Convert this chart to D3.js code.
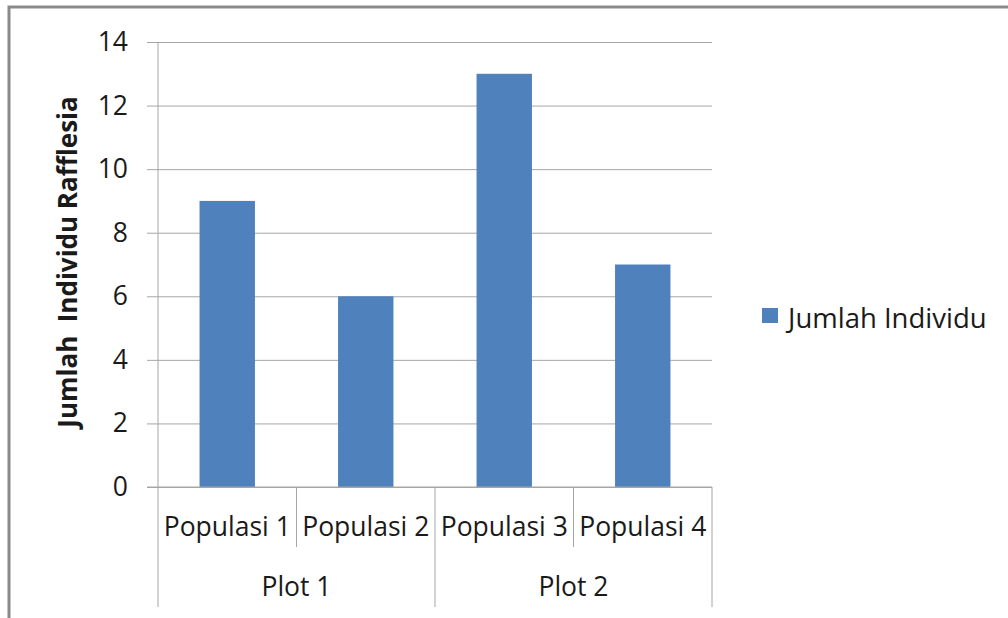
<!DOCTYPE html>
<html>
<head>
<meta charset="utf-8">
<script src="https://cdn.jsdelivr.net/npm/d3@7"></script>
<style>
  html, body { margin: 0; padding: 0; background: #fff; }
  svg { display: block; }
  text { font-family: "Open Sans", sans-serif; fill: #1a1a1a; }
</style>
</head>
<body>
<svg id="chart" width="1008" height="618"></svg>
<script>
// Data
const categories = ["Populasi 1", "Populasi 2", "Populasi 3", "Populasi 4"];
const groups = ["Plot 1", "Plot 2"];
const groupOf = ["Plot 1", "Plot 1", "Plot 2", "Plot 2"];
const values = [9, 6, 13, 7];
const yTicks = [0, 2, 4, 6, 8, 10, 12, 14];
const seriesName = "Jumlah Individu";
const yTitle = "Jumlah  Individu Rafflesia";

const svg = d3.select("#chart");
const W = 1008, H = 618;
const plot = { left: 158, right: 712, top: 42, bottom: 487 };
const barColor = "#4f81bd";
const gridColor = "#a6a6a6";
const fontSize = 26.5;

// Outer frame (top and left edges visible)
svg.append("rect").attr("x", 0).attr("y", 0).attr("width", W).attr("height", H).attr("fill", "#fff");
svg.append("path")
  .attr("d", `M9,${H} V7 H${W}`)
  .attr("fill", "none").attr("stroke", "#8a8a8a").attr("stroke-width", 3);

const x = d3.scaleBand().domain(categories).range([plot.left, plot.right]).paddingInner(0.6).paddingOuter(0.3);
const xOuter = d3.scaleBand().domain(categories).range([plot.left, plot.right]);
const y = d3.scaleLinear().domain([0, 14]).range([plot.bottom, plot.top]);

// Horizontal gridlines with tick marks extending left
const yAxis = d3.axisLeft(y).tickValues(yTicks).tickSize(plot.right - 147).tickPadding(19).tickFormat(d3.format("d"));
const gy = svg.append("g").attr("transform", `translate(${plot.right},0)`).call(yAxis);
gy.select(".domain").remove();
gy.selectAll(".tick line").attr("stroke", gridColor).attr("stroke-width", 1);
gy.selectAll(".tick text").attr("font-size", fontSize).attr("fill", "#1a1a1a")
  .style("font-family", "'Open Sans', sans-serif");

// Vertical value axis line
svg.append("line").attr("x1", plot.left).attr("x2", plot.left)
  .attr("y1", plot.top).attr("y2", plot.bottom).attr("stroke", gridColor);

// Bars
svg.append("g").selectAll("rect").data(values).join("rect")
  .attr("x", (d, i) => x(categories[i]))
  .attr("width", x.bandwidth())
  .attr("y", d => y(d))
  .attr("height", d => y(0) - y(d))
  .attr("fill", barColor);

// Category axis: baseline, separators, two label levels
svg.append("line").attr("x1", 147).attr("x2", plot.right)
  .attr("y1", plot.bottom).attr("y2", plot.bottom).attr("stroke", gridColor);

const boundaries = categories.map(c => xOuter(c)).concat([plot.right]);
svg.append("g").selectAll("line").data(boundaries).join("line")
  .attr("x1", d => d).attr("x2", d => d)
  .attr("y1", plot.bottom)
  .attr("y2", (d, i) => (i % 2 === 0) ? 607 : 547)
  .attr("stroke", gridColor);

svg.append("g").selectAll("text").data(categories).join("text")
  .attr("x", d => xOuter(d) + xOuter.bandwidth() / 2)
  .attr("y", 536)
  .attr("text-anchor", "middle")
  .attr("font-size", fontSize)
  .text(d => d);

svg.append("g").selectAll("text").data(groups).join("text")
  .attr("x", g => {
    const members = categories.filter((c, i) => groupOf[i] === g);
    return (xOuter(members[0]) + xOuter(members[members.length - 1]) + xOuter.bandwidth()) / 2;
  })
  .attr("y", 596)
  .attr("text-anchor", "middle")
  .attr("font-size", fontSize)
  .text(g => g);

// Y axis title
svg.append("text")
  .attr("transform", "translate(77, 262) rotate(-90)")
  .attr("text-anchor", "middle")
  .attr("font-size", 26)
  .attr("font-weight", "bold")
  .attr("fill", "#111")
  .style("white-space", "pre")
  .text(yTitle);

// Legend
const lg = svg.append("g").attr("transform", "translate(762, 308)");
lg.append("rect").attr("width", 16).attr("height", 15).attr("fill", barColor);
lg.append("text").attr("x", 26).attr("y", 20).attr("font-size", 27.5).text(seriesName);
</script>
</body>
</html>
